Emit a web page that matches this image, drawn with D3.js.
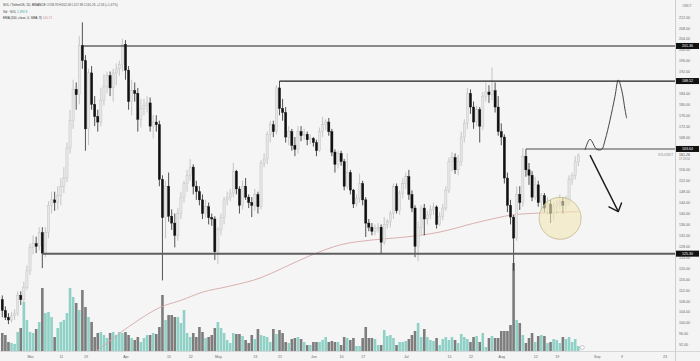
<!DOCTYPE html>
<html><head><meta charset="utf-8">
<script src="https://cdn.jsdelivr.net/npm/d3@7"></script>
<style>html,body{margin:0;padding:0;background:#f4f4f4;overflow:hidden}svg{display:block}</style>
</head><body><svg id="c" width="700" height="361"></svg>
<script>
// ---- data (SOL/USDT daily) ----
const startDay = "2024-02-21";
const opens = [108.5,104.5,102,101,102.5,103.5,110,108.5,113,119,127.5,129,128,133,125.5,133,143,145,144,146.5,150,153,164,174,185.5,183.5,201.5,196,171,191.5,180,175.5,173.5,181.5,186.5,190.5,186,191.5,193,194.5,202,192.5,181,185,184,174.5,178.5,179.5,180.5,172,173.5,172.5,152.5,138.5,150,139,136.5,132,140,146,151,154,157,150,148,145,140,142.5,138.5,138,126,134,138.5,145,146,147.5,155.5,149,143,150,146,144,143,147,142.5,158.5,160,169,172.5,170,186,178.5,177,168,170,165,163.5,170,168.5,169,167,167.5,166,163,170,172.5,173.5,170,162.5,158,162,159,150,155,148.6,143.5,145.5,151,145,136.5,135,133.5,134.5,135,129.5,136,137,140,150,141,147.5,151,153.5,147,142,128,135,142,138,139.5,141.5,142.4,136,139,142,148.5,159,160.5,156,159,168,173,184,179,173.5,178,172,183,184.5,183.5,185,179,170,168,153,143,138.7,131,147,144,161,156,154,146,150.5,144,146.5,142,143.5,140,142.5,143.5,144.5,143,144,152.5,154,158.93];
const highs = [110,106,103.5,104,105,111.5,111.5,115,121,129,132,131.5,135,135,135,144.5,148,148,150,153,157,166,178,189,188,205,210,198,193,194,183,178,186,191,192,192,193,195,196,204,203.5,194,189,188,186,182,182,183,182.5,176,176,174,154,152,155,141.5,140,142,148,152,156,160,158,152,150,147,145,144,140,139,135,140,146,148,149,158.6,156,150,152,153,147,146,149,148,159.5,162,170,174,174,187,188.5,182,179,172,171,168,172,172,171,170,169,168,167,171.5,175.4,174.5,175,171,163.5,163,163,160,162,156,149,147,154.6,152,146,138,136.5,136,136.5,136,138.7,138,141,151,151,148.5,153,155,156,148.5,143,137,143,143.5,141,143,144,143,140.5,143.5,150,160.5,162.5,162,161.5,170,174.5,186,185.5,181,179.5,179,184.5,188,187,193.5,188,183,173,169,155,145,139.5,150,150,164,163.6,158.5,155.5,153.4,152,147.5,147.5,146,145,144.5,145,147,146,146.5,154,155,161,162.08];
const lows = [102,101,99.5,100,101,102.5,106.5,107.5,112,117.5,125,125.5,126.5,120,124,131,140,141,141.5,143,147.5,151.5,162,171,178,180,193,163,165,178,172,170,172,179.5,184,183,181,187,190.5,192,189,178,176,181,170,171.5,176,177,170,167.5,170,150,115.5,131,137,134,127.6,130,138,144,148,152,147,145,143,138,138.5,136,135.5,123,121.5,132,136,143,144.5,146,147,140,141.5,145,142,138.7,141,140,141.5,157,158,166,168,169,176,174,166,165,163,161,162,166.5,167,165,165.5,164.5,161,162.5,168,170.5,168.5,161,155,156.5,157.5,148.5,149,147,142,142.5,144,143,131.4,133.5,132,132,133,125.5,128.5,134.5,135,138,140,139.5,145.5,149,145,140.5,124,122.5,132.5,132,136,138,139.5,134.5,135.5,137.6,141,147.5,155.5,154.5,154,157.5,166,171,176.5,171,172,166,170.5,181,180.5,181.5,177,168.5,165,151,140.5,136,119,130,141.3,142.5,153.5,150.5,144.5,145,142.5,141,140.5,139.5,136.5,137.5,139.5,141.5,140,141.5,143,150.5,152.5,157.38];
const closes = [104.5,102,101,102.5,103.5,110,108.5,113,119,127.5,129,128,133,125.5,133,143,145,144,146.5,150,153,164,174,185.5,183.5,201.5,196,171,191.5,180,175.5,173.5,181.5,186.5,190.5,186,191.5,193,194.5,202,192.5,181,185,184,174.5,178.5,179.5,180.5,172,173.5,172.5,152.5,138.5,150,139,136.5,132,140,146,151,154,157,150,148,145,140,142.5,138.5,138,126,134,138.5,145,146,147.5,155.5,149,143,150,146,144,143,147,142.5,158.5,160,169,172.5,170,186,178.5,177,168,170,165,163.5,170,168.5,169,167,167.5,166,163,170,172.5,173.5,170,162.5,158,162,159,150,155,148.6,143.5,145.5,151,145,136.5,135,133.5,134.5,135,129.5,136,137,140,150,141,147.5,151,153.5,147,142,128,135,142,138,139.5,141.5,142.4,136,139,142,148.5,159,160.5,156,159,168,173,184,179,173.5,178,172,183,184.5,183.5,185,179,170,168,153,143,138.7,131,147,144,161,156,154,146,150.5,144,146.5,142,143.5,140,142.5,143.5,144.5,143,144,152.5,154,158.93,161.26];
// volume, in units of 100k SOL
const volumes = [18,16,9,8,7,19,23,49,31,19,18,22,29,63,38,39,34,14,23,29,31,38,63,54,48,41,61,44,34,29,14,18,19,16,13,18,19,16,19,18,19,16,13,11,14,9,13,16,16,18,17,24,56,31,36,36,34,34,28,41,18,14,18,14,24,19,13,14,16,23,29,23,18,11,8,18,17,17,15,11,8,16,12,22,16,15,14,9,22,17,21,18,9,8,12,13,14,12,9,6,6,9,9,9,11,14,9,10,9,9,6,14,13,11,13,5,5,13,24,13,13,12,6,6,21,15,16,13,6,9,9,10,12,16,20,28,14,22,14,11,10,13,6,12,14,11,14,11,8,17,14,12,9,14,15,9,18,4,13,15,13,13,20,20,20,26,88,31,28,16,8,13,18,9,15,16,15,8,9,12,11,8,14,12,14,9,12,5];
// EMA 200 (day offset from startDay, value)
const emaDay = [24,31,41,52,58,65,73,84,91,100,110,120,131,142,153,161,165,175,187];
const emaValue = [84.5,90,98.5,106,108.2,111.2,113.2,116.5,120,124.6,128.6,130.3,131.4,133.2,136.4,138.5,139.4,140.2,140.71];
// horizontal levels
const levelPrice = [201.36, 188.52, 163.64, 125.30];
const levelStartDay = [26, 90, 170, 13];
// right axis ticks (labels hidden by the level tags are not shown)
const priceTicks = [92,96,100,104,108,112,116,120,124,128,132,136,140,144,148,152,156,168,172,176,180,184,192,196,200,204,208,212];
// time axis ticks
const dateTickDates = ["2024-03-01","2024-03-11","2024-03-19","2024-04-01","2024-04-15","2024-04-22","2024-05-01","2024-05-13","2024-05-21","2024-06-01","2024-06-10","2024-06-17","2024-07-01","2024-07-15","2024-07-22","2024-08-01","2024-08-12","2024-08-19","2024-09-01","2024-09-09","2024-09-23"];
const dateTickLabels = ["Mar","11","19","Apr","15","22","May","13","21","Jun","10","17","Jul","15","22","Aug","12","19","Sep","9","23"];
// hand-drawn projection (day offset, price)
const pathDay = [189.2,190.8,193,194.6,195.7,197.3,198.9,200,201.1,202.2,202.7];
const pathPrice = [163.3,167.2,163.5,163.5,166.9,174.2,182.8,188.9,185.2,177.9,174.9];
const arrowDay = [190.8,200];
const arrowPrice = [161.4,140.7];
const arrowHeadDay = [196.8,200,201.1];
const arrowHeadPrice = [142.5,140.7,144];
const circleDay = 181.1, circlePrice = 138.25;

// ---- chart ----
const W = 700, H = 361, PW = 675, PH = 351;
const svg = d3.select("#c");
const parse = d3.utcParse("%Y-%m-%d");
const t0 = parse(startDay);
const dayToDate = d => new Date(t0.getTime() + d * 864e5);
const n = closes.length;
const data = d3.range(n).map(i => ({d: dayToDate(i), o: opens[i], h: highs[i], l: lows[i], c: closes[i], v: volumes[i]}));

const pt = d3.utcParse("%Y-%m-%dT%H:%M");
const x = d3.scaleUtc().domain([pt("2024-02-20T06:14"), pt("2024-09-26T09:36")]).range([0, PW]);
const y = d3.scaleLinear().domain([89.65, 218.2]).range([PH, 0]);
const yv = d3.scaleLinear().domain([0, 100]).range([PH, PH - 100]);

svg.append("rect").attr("width", W).attr("height", H).attr("fill", "#f4f4f4");
svg.append("rect").attr("width", PW).attr("height", PH).attr("fill", "#f5f5f5");
svg.append("defs").append("clipPath").attr("id", "clip").append("rect").attr("width", PW).attr("height", PH);
const g = svg.append("g").attr("clip-path", "url(#clip)");

const up = d => d.c >= d.o;
// volume
g.append("g").selectAll("rect").data(data).join("rect")
  .attr("x", d => x(d.d) - 1.3).attr("width", 2.6)
  .attr("y", d => yv(d.v)).attr("height", d => PH - yv(d.v))
  .attr("fill", d => up(d) ? "#8fd1c6" : "#7d7d7d");

// EMA
g.append("path").datum(emaDay.map((d, i) => [dayToDate(d), emaValue[i]]))
  .attr("fill", "none").attr("stroke", "#d7a7a7").attr("stroke-width", 0.9)
  .attr("d", d3.line().x(p => x(p[0])).y(p => y(p[1])).curve(d3.curveMonotoneX));

// candles
const cg = g.append("g");
cg.selectAll("line").data(data).join("line")
  .attr("x1", d => x(d.d)).attr("x2", d => x(d.d))
  .attr("y1", d => y(d.h)).attr("y2", d => y(d.l))
  .attr("stroke", d => up(d) ? "#b9b9b9" : "#2a2a2a").attr("stroke-width", 0.8);
cg.selectAll("rect").data(data).join("rect")
  .attr("x", d => x(d.d) - 1.1).attr("width", 2.2)
  .attr("y", d => y(Math.max(d.o, d.c)))
  .attr("height", d => Math.max(0.8, Math.abs(y(d.o) - y(d.c))))
  .attr("fill", d => up(d) ? "#e6e6e6" : "#111")
  .attr("stroke", d => up(d) ? "#bdbdbd" : "#111").attr("stroke-width", 0.4);

// levels
const levelColor = ["#1e1e1e", "#1e1e1e", "#4a4a4a", "#5e5e5e"];
const levelWidth = [1.2, 1.2, 1.1, 2];
levelPrice.forEach((p, i) => {
  g.append("line").attr("x1", x(dayToDate(levelStartDay[i]))).attr("x2", PW)
    .attr("y1", y(p)).attr("y2", y(p))
    .attr("stroke", levelColor[i]).attr("stroke-width", levelWidth[i]);
});

// circle
g.append("circle").attr("cx", x(dayToDate(circleDay))).attr("cy", y(circlePrice)).attr("r", 21)
  .attr("fill", "#f1e6b4").attr("fill-opacity", 0.6).attr("stroke", "#c2b88a").attr("stroke-width", 0.8);

// projection path
g.append("path").datum(pathDay.map((d, i) => [dayToDate(d), pathPrice[i]]))
  .attr("fill", "none").attr("stroke", "#333").attr("stroke-width", 0.9)
  .attr("d", d3.line().x(p => x(p[0])).y(p => y(p[1])).curve(d3.curveCatmullRom));
const lineXY = d3.line().x(p => x(p[0])).y(p => y(p[1]));
g.append("path").datum(arrowDay.map((d, i) => [dayToDate(d), arrowPrice[i]]))
  .attr("fill", "none").attr("stroke", "#1a1a1a").attr("stroke-width", 1.4).attr("d", lineXY);
g.append("path").datum(arrowHeadDay.map((d, i) => [dayToDate(d), arrowHeadPrice[i]]))
  .attr("fill", "none").attr("stroke", "#1a1a1a").attr("stroke-width", 1.4).attr("stroke-linejoin", "round").attr("d", lineXY);

// separators
svg.append("line").attr("x1", PW + 0.5).attr("x2", PW + 0.5).attr("y1", 0).attr("y2", H).attr("stroke", "#c4c4c4").attr("stroke-width", 0.8);
svg.append("line").attr("x1", 0).attr("x2", W).attr("y1", PH + 0.5).attr("y2", PH + 0.5).attr("stroke", "#cfcfcf").attr("stroke-width", 0.8);

const FONT = "'Liberation Sans', Arial, sans-serif";
// right axis
const ra = svg.append("g").attr("transform", `translate(${PW},0)`)
  .call(d3.axisRight(y).tickValues(priceTicks).tickFormat(d3.format(".2f")).tickSize(0).tickPadding(4));
ra.select(".domain").remove();
ra.selectAll("text").attr("font-family", FONT).attr("font-size", 3.6).attr("fill", "#666");
svg.append("text").attr("x", 687).attr("y", 7).attr("text-anchor", "middle").attr("font-family", FONT).attr("font-size", 3.4).attr("fill", "#777").text("USDT");

// level tags
levelPrice.forEach(p => {
  svg.append("rect").attr("x", PW + 1).attr("y", y(p) - 3).attr("width", 23).attr("height", 6).attr("fill", "#111");
  svg.append("text").attr("x", PW + 12.5).attr("y", y(p) + 1.3).attr("text-anchor", "middle")
    .attr("font-family", FONT).attr("font-size", 3.6).attr("fill", "#fff").text(p.toFixed(2));
});
// last price
const last = closes[n - 1];
svg.append("text").attr("x", PW + 4).attr("y", y(last) + 1).attr("font-family", FONT).attr("font-size", 3.6).attr("fill", "#444").text(last.toFixed(2));
svg.append("text").attr("x", PW + 4).attr("y", y(last) + 5).attr("font-family", FONT).attr("font-size", 2.8).attr("fill", "#777").text("17:23:54");
svg.append("text").attr("x", PW - 2).attr("y", y(last) + 1).attr("text-anchor", "end").attr("font-family", FONT).attr("font-size", 3).attr("fill", "#888").text("SOL/USDT");

// time axis
const tickDates = dateTickDates.map(s => parse(s));
const ba = svg.append("g").attr("transform", `translate(0,${PH})`)
  .call(d3.axisBottom(x).tickValues(tickDates).tickFormat((d, i) => dateTickLabels[i]).tickSize(0).tickPadding(4));
ba.select(".domain").remove();
ba.selectAll("text").attr("font-family", FONT).attr("font-size", 3.6).attr("fill", "#666");

// small icon near last volume bar
svg.append("circle").attr("cx", x(dayToDate(n - 1)) + 4).attr("cy", 347.5).attr("r", 2).attr("fill", "#fff").attr("stroke", "#999").attr("stroke-width", 0.5);

// header
const hdr = svg.append("g").attr("font-family", FONT).attr("font-size", 3.1);
const t1 = hdr.append("text").attr("x", 3).attr("y", 6);
t1.append("tspan").attr("fill", "#333").text("SOL / TetherUS, 1D, BINANCE  ");
t1.append("tspan").attr("fill", "#555").text("O158.93  H162.08  L157.38  C161.26  +2.33 (+1.47%)");
const t2 = hdr.append("text").attr("x", 3).attr("y", 12.5);
t2.append("tspan").attr("fill", "#333").text("Vol · SOL  ");
t2.append("tspan").attr("fill", "#3aa597").text("1.392 K");
const t3 = hdr.append("text").attr("x", 3).attr("y", 19);
t3.append("tspan").attr("fill", "#333").text("EMA (200, close, 0, SMA, 9)  ");
t3.append("tspan").attr("fill", "#c98a8a").text("140.71");
</script></body></html>
